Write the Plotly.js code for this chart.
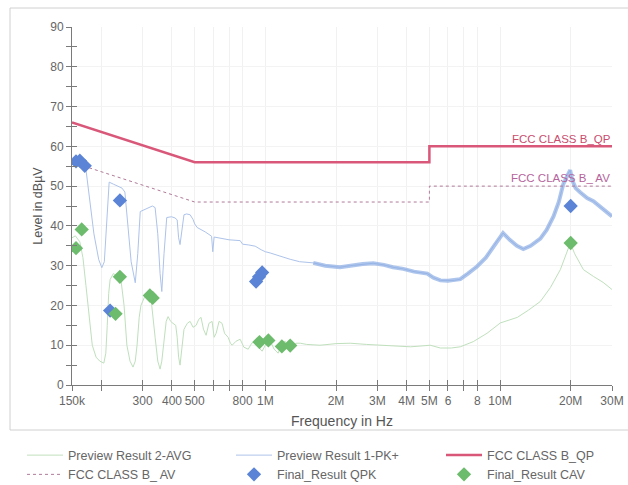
<!DOCTYPE html>
<html>
<head>
<meta charset="utf-8">
<script src="https://cdn.plot.ly/plotly-3.0.1.min.js"></script>
<style>html,body{margin:0;padding:0;background:#fff;}#chart{width:628px;height:485px;}</style>
</head>
<body>
<div id="chart"></div>
<script>
// ---- Preview Result 1-PK+ (Hz, dBµV)
const pkFreq = [150000,153000,158000,163000,168000,172000,178000,186000,195000,201000,206000,212000,216000,225000,235000,245000,252000,260000,268000,279000,286000,293000,304000,316000,330000,339000,348000,356000,362000,370000,380000,398000,412000,421000,427000,433000,440000,450000,462000,478000,492000,500000,512000,554000,590000,597000,605000,650000,700000,781000,800000,850000,905000,960000,1000000,1048000,1150000,1276000,1400000,1600000,1800000,2080000,2300000,2600000,2880000,3200000,3500000,3870000,4300000,4900000,5200000,5570000,6000000,6400000,6770000,7300000,7980000,8700000,9400000,10300000,11000000,11800000,12570000,13500000,14850000,15800000,16900000,17800000,18600000,19400000,19900000,20300000,21000000,22000000,23500000,25000000,27000000,30000000];
const pkLevel = [56.0,56.5,56.2,55.6,55.0,54.2,47,38,31.5,29.5,31,42,51,50.5,50,49.5,48.5,40,31,25.7,33,43.6,44,44.6,45,44.6,38,28,23.5,33,42.1,42.3,42.0,41.5,37,35.3,39,42.8,43.0,42.8,41.6,40.5,39.6,38.5,37.4,33.5,37.2,36.8,36.5,36.3,35.4,35.2,34.9,34,33.5,33.2,32.4,31.6,31,30.7,30,29.6,30,30.4,30.6,30.2,29.6,29.2,28.5,28,27,26.3,26.2,26.3,26.6,28,29.8,32,35,38.2,36.5,35,34.2,35,36.8,39,42.4,46,50.5,53,54,51.5,49.5,48.4,47,46.2,44.5,42.4];

// ---- Preview Result 2-AVG (Hz, dBµV)
const avgFreq = [150000,155000,162000,167000,172000,178000,183000,190000,197000,205000,209000,212000,215000,218000,225000,233000,243000,250000,257000,265000,273000,279000,284000,290000,295000,305000,313000,326000,333000,339000,348000,356000,362000,370000,378000,385000,395000,404000,415000,421000,427000,433000,440000,450000,465000,478000,492000,507000,520000,532000,545000,559000,575000,593000,605000,617000,635000,654000,670000,694000,710000,722000,750000,781000,810000,845000,875000,905000,935000,969000,1010000,1050000,1090000,1134000,1175000,1215000,1255000,1300000,1350000,1410000,1500000,1710000,2000000,2300000,2700000,3090000,3600000,4150000,4600000,5040000,5570000,6200000,6770000,7690000,8800000,10030000,11850000,13200000,14850000,16400000,18070000,19300000,19940000,20800000,22660000,25000000,27500000,30000000];
const avgLevel = [37,37.5,36,32,25,16,10,7,6,5.5,8,15,23,26.5,28,27.5,26,20,10,6,4.5,6,10,17,20,22,22.5,21.5,17,12,6,4,6,12,16,17.2,16,15.5,15,12,7,5,9,14,15.5,16,14.5,15,16.5,17,14,12.5,15.5,16,12,13,16,15.5,13,12,10.5,10,11,11.5,9.5,9,10.5,11,9.5,8.5,10.5,11,9,8,10.5,11,9,9,10.5,10.5,10.2,10,10.4,10.5,10.2,10,9.9,9.6,9.8,10,9.3,9.3,9.6,10.9,13,15.6,17,18.8,21,24.5,29,33.5,35.7,33,29,27.3,25.8,24];

// ---- Limits
const qpFreq = [150000,500000,5000000,5000000,30000000];
const qpLevel = [66,56,56,60,60];
const avFreq = [150000,500000,5000000,5000000,30000000];
const avLevel = [56,46,46,50,50];

// ---- Final results
const qpkFreq = [156000,162000,170000,218000,240000,913000,940000,969000,20000000];
const qpkLevel = [56.2,56.4,55.1,18.7,46.4,26.0,27.2,28.3,45.0];
const cavFreq = [156000,165000,230000,240000,322000,331000,944000,1030000,1176000,1276000,20000000];
const cavLevel = [34.4,39.1,17.9,27.2,22.5,21.9,10.8,11.2,9.7,9.9,35.7];

// ---- Axis ticks
const xTickVals = [150000,200000,300000,400000,500000,600000,700000,800000,1000000,2000000,3000000,4000000,5000000,6000000,7000000,8000000,10000000,20000000,30000000];
const xTickText = ['150k','','300','400','500','','','800','1M','2M','3M','4M','5M','6','','8','10M','20M','30M'];
const yTickVals = [0,10,20,30,40,50,60,70,80,90];
const yTickText = ['0','10','20','30','40','50','60','70','80','90'];

const bandFreq = pkFreq.filter(f => f >= 1500000);
const bandLevel = pkLevel.filter((v, i) => pkFreq[i] >= 1500000);

const xRange = [Math.log10(150000), Math.log10(30000000)];
const axisCol = '#7a7a7a';

const traces = [
  {x: avgFreq, y: avgLevel, type: 'scatter', mode: 'lines', name: 'Preview Result 2-AVG',
   line: {color: '#bfe0bc', width: 1}, legend: 'legend'},
  {x: pkFreq, y: pkLevel, type: 'scatter', mode: 'lines', name: 'Preview Result 1-PK+',
   line: {color: '#adc3ea', width: 1}, legend: 'legend2'},
  {x: bandFreq, y: bandLevel, type: 'scatter', mode: 'lines', name: 'PK band', showlegend: false,
   line: {color: 'rgba(140,172,228,0.7)', width: 4}, hoverinfo: 'skip'},
  {x: qpFreq, y: qpLevel, type: 'scatter', mode: 'lines', name: 'FCC CLASS B_QP',
   line: {color: '#d9587a', width: 2.5}, legend: 'legend3'},
  {x: avFreq, y: avLevel, type: 'scatter', mode: 'lines', name: 'FCC CLASS B_ AV',
   line: {color: '#b07a98', width: 1, dash: 'dot'}, legend: 'legend'},
  {x: qpkFreq, y: qpkLevel, type: 'scatter', mode: 'markers', name: 'Final_Result QPK',
   marker: {symbol: 'diamond', size: 11, color: '#5b84d6'}, legend: 'legend2'},
  {x: cavFreq, y: cavLevel, type: 'scatter', mode: 'markers', name: 'Final_Result CAV',
   marker: {symbol: 'diamond', size: 11, color: '#6dbb6c'}, legend: 'legend3'},
  {x: [pkFreq[0]], y: [pkLevel[0]], xaxis: 'x2', yaxis: 'y2', type: 'scatter', mode: 'markers',
   marker: {opacity: 0}, showlegend: false, hoverinfo: 'skip'}
];

const legendBase = {orientation: 'v', xanchor: 'left', yanchor: 'top', y: -0.155,
  bgcolor: 'rgba(0,0,0,0)', itemwidth: 36, tracegroupgap: 0,
  font: {family: 'Liberation Sans, Arial, sans-serif', size: 12.5, color: '#666'}};

const layout = {
  width: 628, height: 485,
  margin: {l: 72, r: 16, t: 27, b: 100, autoexpand: false},
  paper_bgcolor: '#fff', plot_bgcolor: '#fff',
  font: {family: 'Liberation Sans, Arial, sans-serif', size: 12, color: '#666'},
  xaxis: {type: 'log', range: xRange, tickmode: 'array', tickvals: xTickVals, ticktext: xTickText,
    ticks: 'outside', ticklen: 5, tickcolor: axisCol, showline: true, linecolor: axisCol, linewidth: 1,
    showgrid: true, gridcolor: '#f1f1f1', zeroline: false,
    tickfont: {size: 12, color: '#666'},
    title: {text: 'Frequency in Hz', font: {size: 14, color: '#555'}, standoff: 8}},
  yaxis: {range: [0, 90], tickmode: 'array', tickvals: yTickVals, ticktext: yTickText,
    ticks: 'outside', ticklen: 5, tickcolor: axisCol, showline: true, linecolor: axisCol, linewidth: 1,
    minor: {tickmode: 'linear', tick0: 0, dtick: 5, ticks: 'outside', ticklen: 5, tickcolor: axisCol, showgrid: false},
    showgrid: true, gridcolor: '#f3f3f3', zeroline: false,
    tickfont: {size: 12, color: '#666'},
    title: {text: 'Level in dBµV', font: {size: 12.5, color: '#555'}, standoff: 4}},
  xaxis2: {type: 'log', range: xRange, overlaying: 'x', anchor: 'y2', tickmode: 'array', tickvals: xTickVals,
    ticks: 'inside', ticklen: 5, tickcolor: axisCol, showticklabels: false, showline: false, showgrid: false, zeroline: false},
  yaxis2: {range: [0, 90], overlaying: 'y', anchor: 'x2', tickmode: 'array', tickvals: yTickVals,
    ticks: 'inside', ticklen: 5, tickcolor: axisCol, showticklabels: false, showline: false, showgrid: false, zeroline: false,
    minor: {tickmode: 'linear', tick0: 0, dtick: 5, ticks: 'inside', ticklen: 5, tickcolor: axisCol, showgrid: false}},
  legend: Object.assign({}, legendBase, {x: (22 - 72) / 540}),
  legend2: Object.assign({}, legendBase, {x: (231 - 72) / 540}),
  legend3: Object.assign({}, legendBase, {x: (441 - 72) / 540}),
  annotations: [
    {text: 'FCC CLASS B_QP', xref: 'paper', yref: 'paper', x: (510 - 72) / 540, y: 1 - (139 - 27) / 358,
     xanchor: 'left', yanchor: 'middle', showarrow: false, font: {size: 11.5, color: '#c94e6e'}},
    {text: 'FCC CLASS B_ AV', xref: 'paper', yref: 'paper', x: (509 - 72) / 540, y: 1 - (178 - 27) / 358,
     xanchor: 'left', yanchor: 'middle', showarrow: false, font: {size: 11.5, color: '#b5649c'}}
  ],
  shapes: [
    {type: 'rect', xref: 'paper', yref: 'paper', x0: (10 - 72) / 540, x1: (660 - 72) / 540,
     y0: 1 - (430 - 27) / 358, y1: 1 - (8 - 27) / 358, line: {color: '#d0d0d0', width: 1}, layer: 'below'}
  ],
  showlegend: true
};

Plotly.newPlot('chart', traces, layout, {displayModeBar: false, staticPlot: true});
</script>
</body>
</html>
